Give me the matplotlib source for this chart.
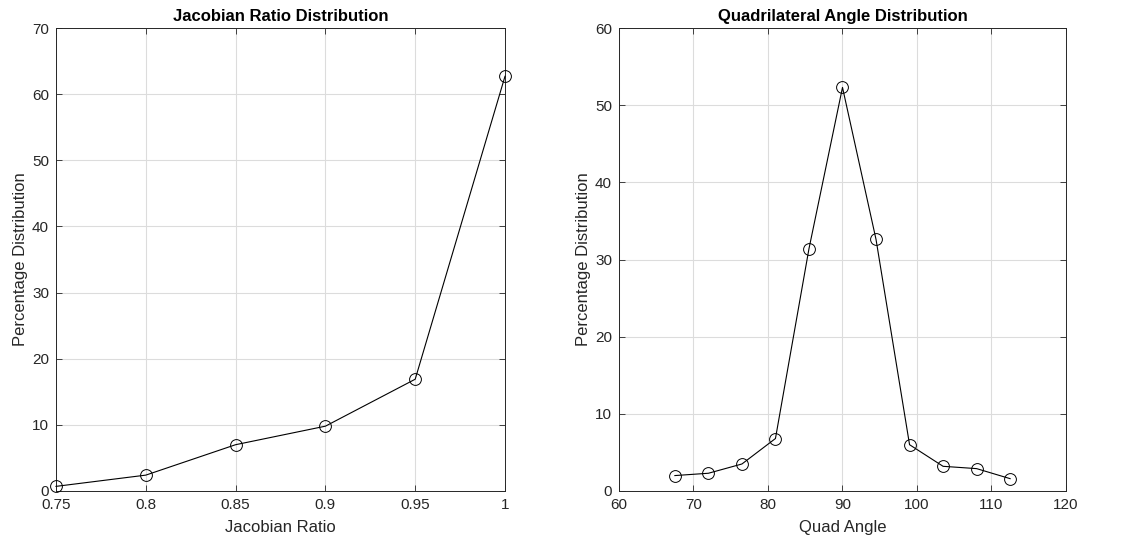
import numpy as np
import matplotlib.pyplot as plt

plt.rcParams['font.family'] = ['Liberation Sans', 'DejaVu Sans']

# Jacobian ratio bins and their share of elements (%)
jac_ratio = [0.75, 0.8, 0.85, 0.9, 0.95, 1.0]
jac_pct = [0.7, 2.4, 7.0, 9.8, 16.9, 62.7]

# Quad angle bins (degrees) and their share of elements (%)
quad_angle = [67.5, 72, 76.5, 81, 85.5, 90, 94.5, 99, 103.5, 108, 112.5]
quad_pct = [2.0, 2.3, 3.5, 6.8, 31.4, 52.3, 32.6, 6.0, 3.2, 2.9, 1.6]

W, H = 1122, 547
fig = plt.figure(figsize=(W / 100, H / 100), dpi=100)

ax1 = fig.add_axes([56 / W, (H - 491) / H, 449 / W, 463 / H])
ax2 = fig.add_axes([619 / W, (H - 491) / H, 447 / W, 463 / H])

txt = '#262626'


def style_axes(ax):
    ax.grid(True, color='#dcdcdc', linewidth=0.8)
    ax.set_axisbelow(True)
    ax.tick_params(direction='in', top=True, right=True, length=4,
                   labelsize=11, colors=txt, width=0.6, pad=5)
    for s in ax.spines.values():
        s.set_color(txt)
        s.set_linewidth(0.7)


ax1.plot(jac_ratio, jac_pct, '-o', color='black', lw=0.8,
         markersize=8.5, markerfacecolor='none', markeredgewidth=0.7,
         clip_on=False, zorder=3)
ax1.set_xlim(0.75, 1.0)
ax1.set_ylim(0, 70)
ax1.set_xticks([0.75, 0.8, 0.85, 0.9, 0.95, 1.0])
ax1.set_xticklabels(['0.75', '0.8', '0.85', '0.9', '0.95', '1'])
ax1.set_yticks(np.arange(0, 71, 10))
ax1.set_title('Jacobian Ratio Distribution', fontsize=12, fontweight='bold', pad=5)
ax1.set_xlabel('Jacobian Ratio', fontsize=12, color=txt, labelpad=6)
ax1.set_ylabel('Percentage Distribution', fontsize=12, color=txt, labelpad=3)
style_axes(ax1)

ax2.plot(quad_angle, quad_pct, '-o', color='black', lw=0.8,
         markersize=8.5, markerfacecolor='none', markeredgewidth=0.7,
         clip_on=False, zorder=3)
ax2.set_xlim(60, 120)
ax2.set_ylim(0, 60)
ax2.set_xticks(np.arange(60, 121, 10))
ax2.set_yticks(np.arange(0, 61, 10))
ax2.set_title('Quadrilateral Angle Distribution', fontsize=12, fontweight='bold', pad=5)
ax2.set_xlabel('Quad Angle', fontsize=12, color=txt, labelpad=6)
ax2.set_ylabel('Percentage Distribution', fontsize=12, color=txt, labelpad=3)
style_axes(ax2)

fig.savefig('out.png', dpi=100)
